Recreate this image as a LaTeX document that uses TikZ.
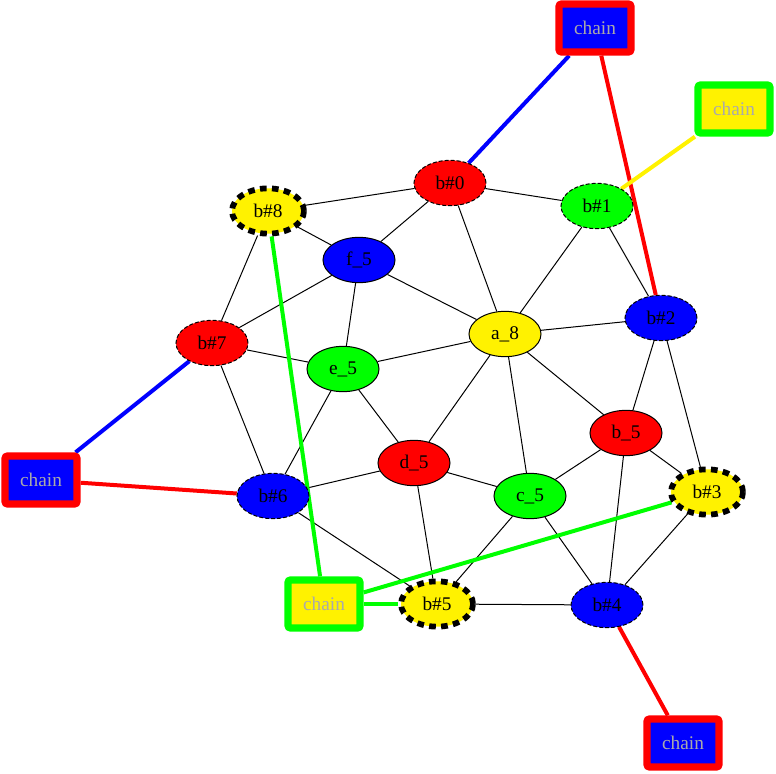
\documentclass[tikz,border=0pt]{standalone}
\usepackage{fontspec}
\setmainfont{Liberation Serif}
\usetikzlibrary{shapes.geometric}
\pgfdeclarelayer{bg}
\pgfsetlayers{bg,main}
\definecolor{chaintext}{RGB}{170,170,170}
\tikzset{
  vnode/.style={ellipse, draw=black, line width=0.75pt, minimum width=54pt, minimum height=34pt, inner sep=0pt, font=\fontsize{14.5}{16}\selectfont},
  bthin/.style={vnode, dash pattern=on 3pt off 1.5pt},
  bthick/.style={vnode, line width=4.3pt, dash pattern=on 5pt off 4pt},
  chainbox/.style={rectangle, line width=5.5pt, rounded corners=2pt, minimum width=54pt, minimum height=36pt, inner sep=0pt, text=chaintext, font=\fontsize{14.5}{16}\selectfont},
  chainA/.style={chainbox, draw=red, fill=blue},
  chainB/.style={chainbox, draw=green, fill=yellow},
  edge/.style={draw=black, line width=0.75pt},
  cedge/.style={line width=3pt}
}
\begin{document}
\begin{tikzpicture}[x=0.75pt, y=-0.75pt]
\useasboundingbox (0,0) rectangle (776,774);
% nodes
\node[bthin, fill=red] (b0) at (450,183) {b\#0};
\node[bthin, fill=green] (b1) at (597,206) {b\#1};
\node[bthin, fill=blue] (b2) at (661,318) {b\#2};
\node[bthick, fill=yellow] (b3) at (707,492) {b\#3};
\node[bthin, fill=blue] (b4) at (607,605) {b\#4};
\node[bthick, fill=yellow] (b5) at (437,604) {b\#5};
\node[bthin, fill=blue] (b6) at (273,496) {b\#6};
\node[bthin, fill=red] (b7) at (212,343) {b\#7};
\node[bthick, fill=yellow] (b8) at (268,211) {b\#8};
\node[vnode, fill=yellow] (a8) at (505,334) {a\_8};
\node[vnode, fill=red] (b_5) at (626,433) {b\_5};
\node[vnode, fill=green] (c5) at (530,496) {c\_5};
\node[vnode, fill=red] (d5) at (414,463) {d\_5};
\node[vnode, fill=green] (e5) at (343,369) {e\_5};
\node[vnode, fill=blue] (f5) at (359,260) {f\_5};
\node[chainA] (ct) at (595,28) {chain};
\node[chainB] (ctr) at (734,109) {chain};
\node[chainA] (cl) at (41,480) {chain};
\node[chainB] (cm) at (324,604) {chain};
\node[chainA] (cb) at (683,743) {chain};
\begin{pgfonlayer}{bg}
\foreach \u/\v in {b0/b8,b0/b1,b0/f5,b0/a8,b1/a8,b1/b2,b8/f5,b8/b7,f5/b7,f5/e5,f5/a8,b7/e5,b7/b6,a8/b2,a8/e5,a8/d5,a8/c5,a8/b_5,b2/b_5,b2/b3,e5/d5,e5/b6,d5/b6,d5/c5,d5/b5,b6/b5,b_5/c5,b_5/b3,b_5/b4,c5/b5,c5/b4,b3/b4,b5/b4}
  \draw[edge] (\u) -- (\v);
\draw[cedge, blue] (ct) -- (b0);
\draw[cedge, red] (ct) -- (b2);
\draw[cedge, yellow] (ctr) -- (b1);
\draw[cedge, blue] (cl) -- (b7);
\draw[cedge, red] (cl) -- (b6);
\draw[cedge, green] (cm) -- (b8);
\draw[cedge, green] (cm) -- (b3);
\draw[cedge, green] (cm) -- (b5);
\draw[cedge, red] (cb) -- (b4);
\end{pgfonlayer}
\end{tikzpicture}
\end{document}
